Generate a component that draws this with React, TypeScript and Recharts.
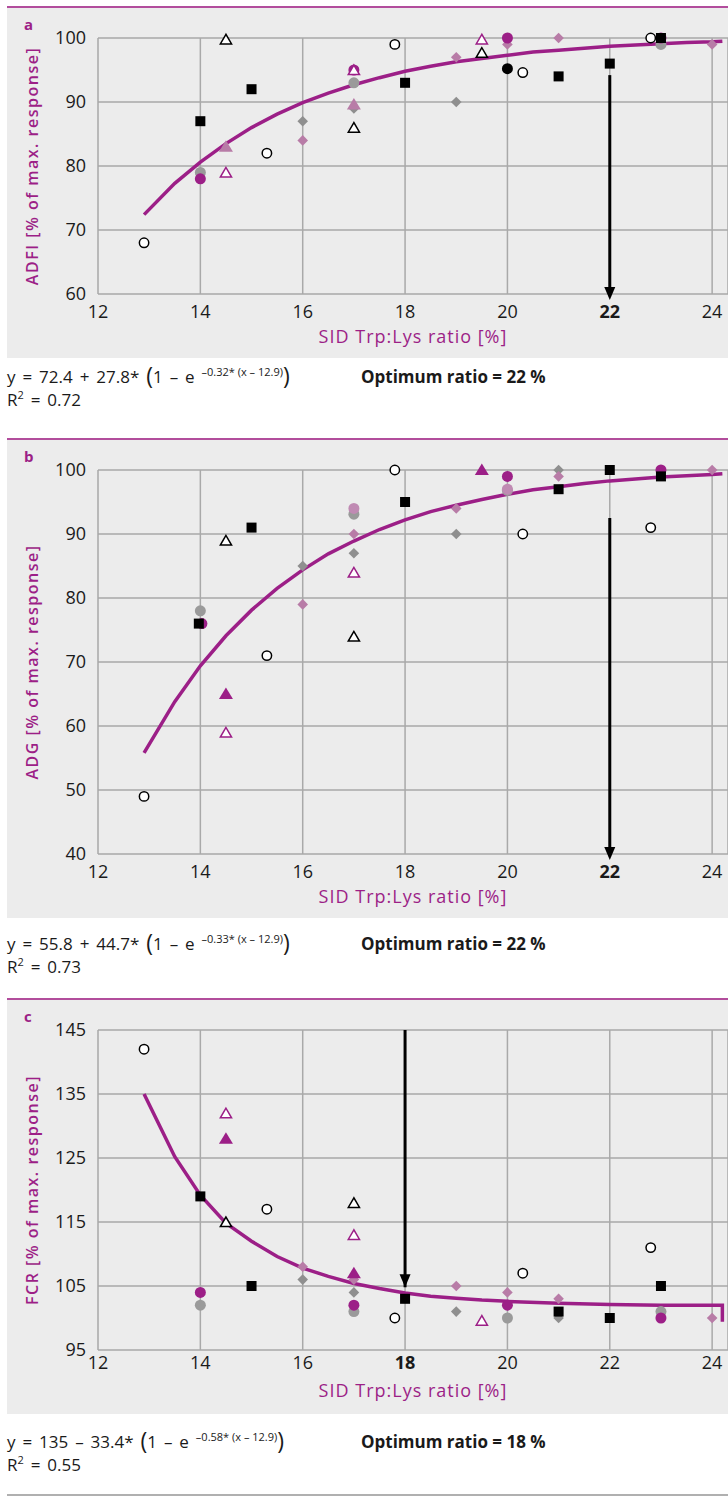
import React from "react";
import { ScatterChart, Scatter, XAxis, YAxis, CartesianGrid } from "recharts";

type P = [number, number];

const ratioTicks = [12, 14, 16, 18, 20, 22, 24];

// a - ADFI
const adfiTicks = [60, 70, 80, 90, 100];
const adfiFit: P[] = [
  [12.9, 72.4], [13.5, 77.3], [14, 80.6], [14.5, 83.5], [15, 86.0], [15.5, 88.1],
  [16, 89.9], [16.5, 91.4], [17, 92.7], [17.5, 93.8], [18, 94.8], [18.5, 95.6],
  [19, 96.3], [19.5, 96.8], [20, 97.3], [20.5, 97.8], [21, 98.1], [21.5, 98.4],
  [22, 98.7], [22.5, 98.9], [23, 99.1], [23.5, 99.3], [24, 99.4], [24.2, 99.5],
];
const adfiArrow: P[] = [[22, 94.2], [22, 60]];
const adfiSquare: P[] = [[14, 87], [15, 92], [18, 93], [21, 94], [22, 96], [23, 100]];
const adfiOpenCircle: P[] = [[12.9, 68], [15.3, 82], [17.8, 99], [20.3, 94.6], [22.8, 100]];
const adfiOpenTriBlack: P[] = [[14.5, 99.8], [17, 86], [19.5, 97.7]];
const adfiOpenTriPurple: P[] = [[14.5, 79], [17, 95], [19.5, 99.8]];
const adfiTriMauve: P[] = [[14.5, 83], [17, 89.6]];
const adfiCirclePurple: P[] = [[14, 78], [17, 95], [20, 100], [23, 100]];
const adfiCircleGray: P[] = [[14, 79], [17, 93], [23, 99]];
const adfiCircleBlack: P[] = [[20, 95.2]];
const adfiDiamondGray: P[] = [[16, 87], [17, 89], [19, 90]];
const adfiDiamondMauve: P[] = [[16, 84], [19, 97], [20, 99], [21, 100], [24, 99]];

// b - ADG
const adgTicks = [40, 50, 60, 70, 80, 90, 100];
const adgFit: P[] = [
  [12.9, 55.8], [13.5, 63.8], [14, 69.4], [14.5, 74.1], [15, 78.1], [15.5, 81.5],
  [16, 84.4], [16.5, 86.9], [17, 88.9], [17.5, 90.7], [18, 92.2], [18.5, 93.5],
  [19, 94.5], [19.5, 95.4], [20, 96.2], [20.5, 96.9], [21, 97.4], [21.5, 97.9],
  [22, 98.3], [22.5, 98.6], [23, 98.9], [23.5, 99.1], [24, 99.3], [24.2, 99.4],
];
const adgArrow: P[] = [[22, 92.5], [22, 40]];
const adgSquare: P[] = [[15, 91], [13.97, 76], [18, 95], [21, 97], [22, 100], [23, 99]];
const adgOpenCircle: P[] = [[12.9, 49], [15.3, 71], [17.8, 100], [20.3, 90], [22.8, 91]];
const adgOpenTriBlack: P[] = [[14.5, 89], [17, 74]];
const adgOpenTriPurple: P[] = [[14.5, 59], [17, 84]];
const adgTriPurple: P[] = [[14.5, 65], [19.5, 100]];
const adgCirclePurple: P[] = [[14.03, 76], [20, 99], [23, 100]];
const adgCircleGray: P[] = [[14, 78], [17, 93.1], [20, 96.8]];
const adgCircleMauve: P[] = [[17, 94], [20, 97]];
const adgDiamondGray: P[] = [[16, 85], [17, 87], [19, 90], [21, 100]];
const adgDiamondMauve: P[] = [[16, 79], [17, 90], [19, 94], [21, 99], [24, 100]];

// c - FCR
const fcrTicks = [95, 105, 115, 125, 135, 145];
const fcrFit: P[] = [
  [12.9, 135], [13.5, 125.2], [14, 119.2], [14.5, 114.8], [15, 112.0], [15.5, 109.6],
  [16, 107.8], [16.5, 106.5], [17, 105.4], [17.5, 104.6], [18, 103.9], [18.5, 103.4],
  [19, 103.1], [19.5, 102.8], [20, 102.6], [21, 102.3], [22, 102.1], [23, 102.0],
  [24, 102.0], [24.2, 102.0], [24.2, 99.4],
];
const fcrArrow: P[] = [[18, 145], [18, 104.8]];
const fcrSquare: P[] = [[14, 119], [15, 105], [18, 103], [21, 101], [22, 100], [23, 105]];
const fcrOpenCircle: P[] = [[12.9, 142], [15.3, 117], [17.8, 100], [20.3, 107], [22.8, 111]];
const fcrOpenTriBlack: P[] = [[14.5, 115], [17, 118]];
const fcrOpenTriPurple: P[] = [[14.5, 132], [17, 113], [19.5, 99.6]];
const fcrTriPurple: P[] = [[14.5, 128], [17, 107]];
const fcrCirclePurple: P[] = [[14, 104], [17, 102], [20, 102], [23, 100]];
const fcrCircleGray: P[] = [[14, 102], [17, 101], [20, 100], [23, 101]];
const fcrDiamondGray: P[] = [[16, 106], [17, 104], [19, 101], [21, 100]];
const fcrDiamondMauve: P[] = [[16, 108], [17, 106], [19, 105], [20, 104], [21, 103], [24, 100]];

const PURPLE = "#9c1f87";
const MAUVE = "#b87ca7";
const GRAY = "#8f8f8f";
const GRID = "#a9a9a9";
const FONT = "'Open Sans', sans-serif";

const toXY = (pts: P[]) => pts.map(([x, y]) => ({ x, y }));

// marker painters for the scatter series
type Kind = "square" | "circle" | "ring" | "tri" | "openTri" | "diamond";
const marker = (kind: Kind, color: string) => (p: any) => {
  const { cx, cy } = p;
  if (cx == null || cy == null) return <g />;
  switch (kind) {
    case "square":
      return <rect x={cx - 5} y={cy - 5} width={10} height={10} fill={color} />;
    case "circle":
      return <circle cx={cx} cy={cy} r={5.5} fill={color} />;
    case "ring":
      return <circle cx={cx} cy={cy} r={4.7} fill="#fff" stroke={color} strokeWidth={1.5} />;
    case "tri":
      return <polygon points={`${cx},${cy - 6.5} ${cx - 7},${cy + 5} ${cx + 7},${cy + 5}`} fill={color} />;
    case "openTri":
      return (
        <polygon
          points={`${cx},${cy - 5} ${cx - 5.6},${cy + 4.6} ${cx + 5.6},${cy + 4.6}`}
          fill="#fff"
          stroke={color}
          strokeWidth={1.5}
        />
      );
    case "diamond":
      return <polygon points={`${cx},${cy - 5.3} ${cx + 5.3},${cy} ${cx},${cy + 5.3} ${cx - 5.3},${cy}`} fill={color} />;
  }
  return <g />;
};

const hidden = () => <g />;

// arrow head drawn only at the lower end of the arrow series
const arrowHead = (endY: number, drop: number) => (p: any) => {
  const { cx, cy, payload } = p;
  if (!payload || payload.y !== endY) return <g />;
  const tip = cy + drop;
  return <polygon points={`${cx - 5.5},${tip - 13} ${cx + 5.5},${tip - 13} ${cx},${tip}`} fill="#000" />;
};

type Series = { pts: P[]; kind: Kind; color: string };

interface PanelProps {
  top: number;
  letter: string;
  yTitle: string;
  yTicks: number[];
  plotH: number;
  boldTick: number;
  tickGap: number;
  titleGap: number;
  fit: P[];
  arrow: P[];
  arrowDrop: number;
  series: Series[];
  eqTop: number;
  eq: { a: string; sign: string; b: string; k: string };
  r2: string;
  optimum: string;
}

const sup: React.CSSProperties = { fontSize: 11, verticalAlign: "7px", lineHeight: 0, wordSpacing: 0 };
const paren: React.CSSProperties = { fontSize: 23, verticalAlign: "-1px", lineHeight: 0 };

const Panel: React.FC<PanelProps> = (props) => {
  const { top, letter, yTitle, yTicks, plotH, boldTick, tickGap, titleGap, fit, arrow, arrowDrop, series, eqTop, eq, r2, optimum } = props;
  const height = 32 + plotH + 64;
  const arrowEnd = arrow[arrow.length - 1][1];

  return (
    <>
      <div style={{ position: "absolute", left: 7, top, width: 721, height, background: "#ececec" }} />
      <div style={{ position: "absolute", left: 7, top, width: 721, height: 1.5, background: "#b24d9c" }} />
      <div
        style={{
          position: "absolute",
          left: 24,
          top: top + 8,
          fontSize: 15,
          fontWeight: 700,
          color: PURPLE,
          fontFamily: FONT,
          lineHeight: "20px",
        }}
      >
        {letter}
      </div>
      <div style={{ position: "absolute", left: 7, top }}>
        <ScatterChart width={721} height={height} margin={{ top: 32, right: 0, bottom: 0, left: 0 }}>
          <CartesianGrid stroke={GRID} strokeWidth={1.5} />
          <XAxis
            type="number"
            dataKey="x"
            domain={[12, 24.31]}
            ticks={ratioTicks}
            interval={0}
            height={64}
            axisLine={false}
            tickLine={false}
            tickSize={0}
            tickMargin={tickGap}
            tick={(t: any) => (
              <text
                x={t.x}
                y={t.y}
                dy="0.71em"
                textAnchor="middle"
                fontSize={18}
                fontFamily={FONT}
                fontWeight={t.payload.value === boldTick ? 700 : 400}
                fill="#1a1a1a"
              >
                {t.payload.value}
              </text>
            )}
            label={(l: any) => {
              const vb = l.viewBox;
              return (
                <text
                  x={vb.x + vb.width / 2}
                  y={vb.y + titleGap + 6.5}
                  textAnchor="middle"
                  fontSize={18}
                  letterSpacing={1}
                  fontFamily={FONT}
                  fill={PURPLE}
                >
                  SID Trp:Lys ratio [%]
                </text>
              );
            }}
          />
          <YAxis
            type="number"
            dataKey="y"
            domain={[yTicks[0], yTicks[yTicks.length - 1]]}
            ticks={yTicks}
            interval={0}
            width={91}
            axisLine={false}
            tickLine={false}
            tickSize={0}
            tickMargin={12}
            tick={{ fontSize: 18, fontFamily: FONT, fill: "#1a1a1a" }}
            label={(l: any) => {
              const vb = l.viewBox;
              const cy = vb.y + vb.height / 2;
              return (
                <text
                  x={25}
                  y={cy}
                  dy="0.36em"
                  transform={`rotate(-90 25 ${cy})`}
                  textAnchor="middle"
                  fontSize={16}
                  fontWeight={600}
                  letterSpacing={1.5}
                  fontFamily={FONT}
                  fill={PURPLE}
                >
                  {yTitle}
                </text>
              );
            }}
          />
          <Scatter
            data={toXY(fit)}
            line={{ stroke: PURPLE, strokeWidth: 3.5 }}
            lineType="joint"
            shape={hidden}
            isAnimationActive={false}
          />
          {series.map((s, i) => (
            <Scatter key={i} data={toXY(s.pts)} shape={marker(s.kind, s.color)} isAnimationActive={false} />
          ))}
          <Scatter
            data={toXY(arrow)}
            line={{ stroke: "#000", strokeWidth: 3 }}
            lineType="joint"
            shape={arrowHead(arrowEnd, arrowDrop)}
            isAnimationActive={false}
          />
        </ScatterChart>
      </div>
      <div
        style={{
          position: "absolute",
          left: 7,
          top: eqTop,
          fontFamily: FONT,
          fontSize: 17,
          lineHeight: "23px",
          wordSpacing: 2.5,
          color: "#1a1a1a",
          whiteSpace: "nowrap",
        }}
      >
        y = {eq.a} {eq.sign} {eq.b}* <span style={paren}>(</span>1 – e{" "}
        <span style={sup}>–{eq.k}* (x – 12.9)</span>
        <span style={paren}>)</span>
        <br />
        R<span style={sup}>2</span> = {r2}
      </div>
      <div
        style={{
          position: "absolute",
          left: 361,
          top: eqTop,
          fontFamily: FONT,
          fontSize: 17,
          fontWeight: 700,
          lineHeight: "23px",
          color: "#1a1a1a",
          whiteSpace: "nowrap",
        }}
      >
        Optimum ratio = {optimum} %
      </div>
    </>
  );
};

const App: React.FC = () => {
  return (
    <div style={{ position: "absolute", left: 0, top: 0, width: 728, height: 1503, background: "#fff", overflow: "hidden" }}>
      <Panel
        top={6}
        letter="a"
        yTitle="ADFI [% of max. response]"
        yTicks={adfiTicks}
        plotH={256}
        boldTick={22}
        tickGap={11}
        titleGap={42}
        fit={adfiFit}
        arrow={adfiArrow}
        arrowDrop={6}
        series={[
          { pts: adfiDiamondGray, kind: "diamond", color: GRAY },
          { pts: adfiDiamondMauve, kind: "diamond", color: MAUVE },
          { pts: adfiCircleGray, kind: "circle", color: "#9a9a9a" },
          { pts: adfiCirclePurple, kind: "circle", color: PURPLE },
          { pts: adfiCircleBlack, kind: "circle", color: "#000" },
          { pts: adfiTriMauve, kind: "tri", color: MAUVE },
          { pts: adfiOpenCircle, kind: "ring", color: "#000" },
          { pts: adfiSquare, kind: "square", color: "#000" },
          { pts: adfiOpenTriPurple, kind: "openTri", color: PURPLE },
          { pts: adfiOpenTriBlack, kind: "openTri", color: "#000" },
        ]}
        eqTop={365}
        eq={{ a: "72.4", sign: "+", b: "27.8", k: "0.32" }}
        r2="0.72"
        optimum="22"
      />
      <Panel
        top={438}
        letter="b"
        yTitle="ADG [% of max. response]"
        yTicks={adgTicks}
        plotH={384}
        boldTick={22}
        tickGap={11}
        titleGap={42}
        fit={adgFit}
        arrow={adgArrow}
        arrowDrop={6}
        series={[
          { pts: adgDiamondGray, kind: "diamond", color: GRAY },
          { pts: adgDiamondMauve, kind: "diamond", color: MAUVE },
          { pts: adgCircleGray, kind: "circle", color: "#9a9a9a" },
          { pts: adgCircleMauve, kind: "circle", color: "#c08ab3" },
          { pts: adgCirclePurple, kind: "circle", color: PURPLE },
          { pts: adgTriPurple, kind: "tri", color: PURPLE },
          { pts: adgOpenCircle, kind: "ring", color: "#000" },
          { pts: adgSquare, kind: "square", color: "#000" },
          { pts: adgOpenTriPurple, kind: "openTri", color: PURPLE },
          { pts: adgOpenTriBlack, kind: "openTri", color: "#000" },
        ]}
        eqTop={932}
        eq={{ a: "55.8", sign: "+", b: "44.7", k: "0.33" }}
        r2="0.73"
        optimum="22"
      />
      <Panel
        top={998}
        letter="c"
        yTitle="FCR [% of max. response]"
        yTicks={fcrTicks}
        plotH={320}
        boldTick={18}
        tickGap={6}
        titleGap={40}
        fit={fcrFit}
        arrow={fcrArrow}
        arrowDrop={0}
        series={[
          { pts: fcrDiamondGray, kind: "diamond", color: GRAY },
          { pts: fcrDiamondMauve, kind: "diamond", color: MAUVE },
          { pts: fcrCircleGray, kind: "circle", color: "#9a9a9a" },
          { pts: fcrCirclePurple, kind: "circle", color: PURPLE },
          { pts: fcrTriPurple, kind: "tri", color: PURPLE },
          { pts: fcrOpenCircle, kind: "ring", color: "#000" },
          { pts: fcrSquare, kind: "square", color: "#000" },
          { pts: fcrOpenTriPurple, kind: "openTri", color: PURPLE },
          { pts: fcrOpenTriBlack, kind: "openTri", color: "#000" },
        ]}
        eqTop={1430}
        eq={{ a: "135", sign: "–", b: "33.4", k: "0.58" }}
        r2="0.55"
        optimum="18"
      />
      <div style={{ position: "absolute", left: 7, top: 1494, width: 721, height: 1.5, background: "#b0b0b0" }} />
    </div>
  );
};

export default App;
